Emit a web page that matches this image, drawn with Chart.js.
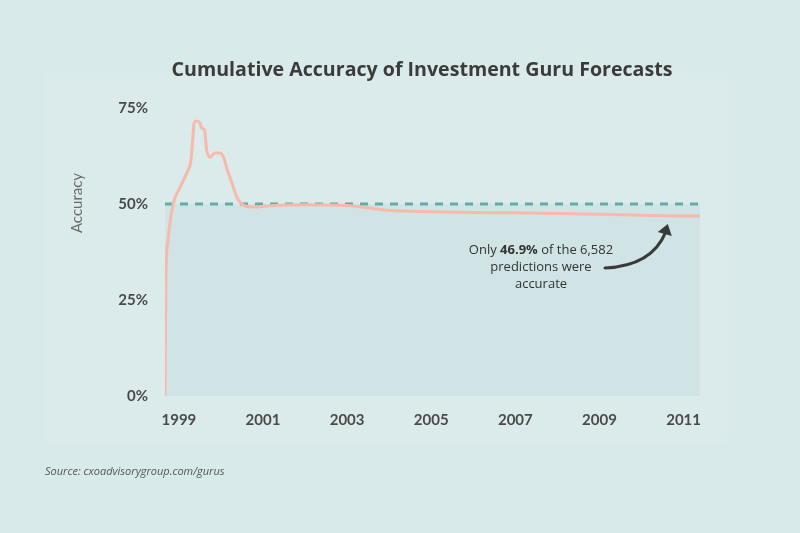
<!DOCTYPE html>
<html>
<head>
<meta charset="utf-8">
<script src="https://cdn.jsdelivr.net/npm/chart.js@4.4.1/dist/chart.umd.min.js"></script>
<style>
  html, body { margin: 0; padding: 0; background: #d9eaea; }
  #wrap { width: 800px; height: 533px; position: relative; }
</style>
</head>
<body>
<div id="wrap"><canvas id="chart" width="800" height="533"></canvas></div>
<script>
// --- DATA ---
const years = [1998.67, 1998.69, 1998.74, 1998.80, 1998.87, 1999.03, 1999.19, 1999.28, 1999.33, 1999.36, 1999.42,
  1999.50, 1999.54, 1999.61, 1999.66, 1999.74, 1999.86, 1999.98, 2000.06, 2000.15, 2000.26,
  2000.38, 2000.53, 2000.77, 2001.09, 2001.41, 2002.0, 2003.0, 2003.5, 2004.0, 2005.0,
  2006.0, 2007.0, 2008.0, 2009.0, 2010.0, 2011.0, 2011.39];
const accuracy = [0, 30.0, 40.5, 46.0, 50.3, 54.4, 58.1, 60.9, 66.7, 71.1, 71.6,
  71.1, 69.8, 69.3, 64.1, 62.2, 63.3, 63.3, 62.2, 58.9, 55.5,
  51.8, 49.7, 49.2, 49.5, 49.7, 49.8, 49.6, 49.0, 48.3, 48.0,
  47.8, 47.7, 47.5, 47.3, 47.1, 46.9, 46.9];
const yearTicks = [1999, 2001, 2003, 2005, 2007, 2009, 2011];
const pctTicks = [0, 25, 50, 75];
const benchmark = 50;
const xRange = [1998.67, 2011.39];

// --- STYLES ---
const BG = '#d9eaea';
const PANEL = '#dbebeb';
const LINE_COLOR = '#f7b9aa';
const DASH_COLOR = '#5eaea6';
const SHADE = '#d0e4e5';
const TEXT_DARK = '#3b3b3b';

// backgrounds, title, notes, arrow
const decorPlugin = {
  id: 'decor',
  beforeDraw(chart) {
    const c = chart.ctx;
    c.save();
    c.fillStyle = BG;
    c.fillRect(0, 0, chart.width, chart.height);
    c.fillStyle = PANEL;
    c.fillRect(44, 73, 686, 372);
    c.restore();
  },
  afterDraw(chart) {
    const c = chart.ctx;
    const xs = chart.scales.x, ys = chart.scales.y;
    c.save();
    // title
    c.fillStyle = TEXT_DARK;
    c.font = 'bold 19.6px "Open Sans"';
    c.textAlign = 'center';
    c.textBaseline = 'middle';
    c.fillText('Cumulative Accuracy of Investment Guru Forecasts', 422, 70);

    // y axis title
    c.save();
    c.translate(77, 203);
    c.rotate(-Math.PI / 2);
    c.fillStyle = '#6a6a6a';
    c.font = '15px Lato';
    c.fillText('Accuracy', 0, 0);
    c.restore();

    // source
    c.textAlign = 'left';
    c.fillStyle = '#555';
    c.font = 'italic 11px "Open Sans"';
    c.fillText('Source: cxoadvisorygroup.com/gurus', 45, 472);

    // annotation text
    const cx = 541, ty = 250;
    c.fillStyle = '#333';
    c.font = '13px "Open Sans"';
    const a = 'Only ', b = '46.9%', d = ' of the 6,582';
    const wa = c.measureText(a).width, wd = c.measureText(d).width;
    c.font = 'bold 13px "Open Sans"';
    const wb = c.measureText(b).width;
    let x0 = cx - (wa + wb + wd) / 2;
    c.textAlign = 'left';
    c.font = '13px "Open Sans"';
    c.fillText(a, x0, ty);
    c.font = 'bold 13px "Open Sans"';
    c.fillText(b, x0 + wa, ty);
    c.font = '13px "Open Sans"';
    c.fillText(d, x0 + wa + wb, ty);
    c.textAlign = 'center';
    c.fillText('predictions were', cx, ty + 17);
    c.fillText('accurate', cx, ty + 34);

    // arrow pointing at the last value
    const tipX = xs.getPixelForValue(2010.6);
    const tipY = ys.getPixelForValue(46.9) + 10;
    c.strokeStyle = '#3a3a3a';
    c.fillStyle = '#3a3a3a';
    c.lineWidth = 3;
    c.lineCap = 'round';
    c.beginPath();
    c.moveTo(605, 268);
    c.quadraticCurveTo(652, 266, tipX - 1, tipY + 6);
    c.stroke();
    c.beginPath();
    c.moveTo(tipX + 1, tipY - 2);
    c.lineTo(tipX - 9, tipY + 6);
    c.lineTo(tipX + 5, tipY + 10);
    c.closePath();
    c.fill();
    c.restore();
  }
};

const ctx = document.getElementById('chart').getContext('2d');
new Chart(ctx, {
  type: 'line',
  data: {
    datasets: [
      {
        label: 'Accuracy',
        data: years.map((y, i) => ({ x: y, y: accuracy[i] })),
        borderColor: LINE_COLOR,
        borderWidth: 3,
        pointRadius: 0,
        cubicInterpolationMode: 'monotone',
        fill: false,
        order: 0
      },
      {
        label: '50%',
        data: xRange.map(x => ({ x: x, y: benchmark })),
        borderColor: DASH_COLOR,
        borderWidth: 3,
        borderDash: [8, 7],
        pointRadius: 0,
        fill: 'origin',
        backgroundColor: SHADE,
        order: 1
      }
    ]
  },
  options: {
    responsive: false,
    animation: false,
    events: [],
    layout: { padding: { top: 108, right: 100, bottom: 0, left: 0 } },
    plugins: { legend: { display: false }, tooltip: { enabled: false }, title: { display: false } },
    scales: {
      x: {
        type: 'linear',
        min: xRange[0],
        max: xRange[1],
        afterBuildTicks(s) { s.ticks = yearTicks.map(v => ({ value: v })); },
        afterFit(s) { s.height = 137; },
        grid: { display: false, drawTicks: false },
        border: { display: false },
        ticks: {
          padding: 15,
          color: '#4a4a4a',
          font: { family: 'Lato', weight: 'bold', size: 15 },
          callback: v => String(v),
          maxRotation: 0
        }
      },
      y: {
        min: 0,
        max: 75,
        afterBuildTicks(s) { s.ticks = pctTicks.map(v => ({ value: v })); },
        afterFit(s) { s.width = 165; },
        grid: { display: false, drawTicks: false },
        border: { display: false },
        ticks: {
          padding: 17,
          color: '#4a4a4a',
          font: { family: 'Lato', weight: 'bold', size: 15 },
          callback: v => v + '%'
        }
      }
    }
  },
  plugins: [decorPlugin]
});
</script>
</body>
</html>
